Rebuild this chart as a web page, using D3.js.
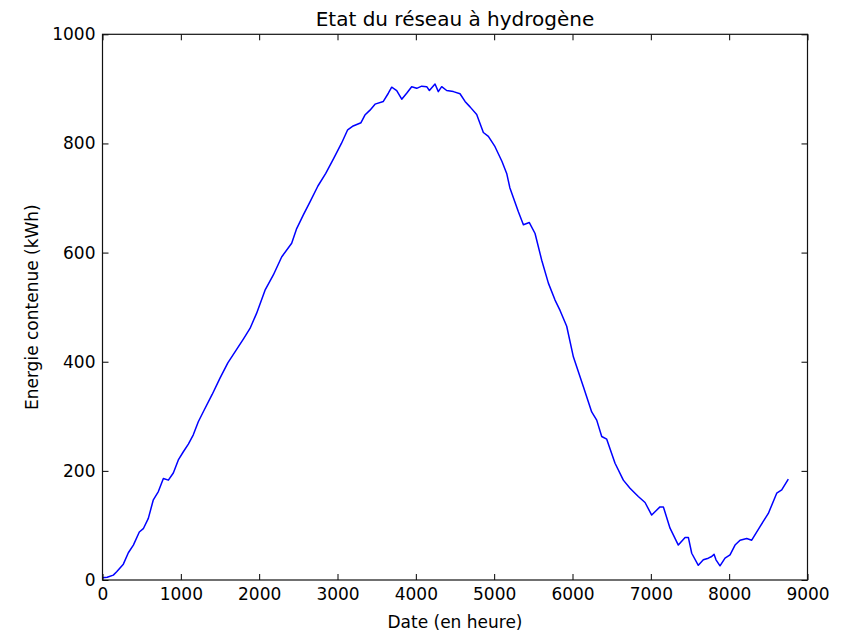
<!DOCTYPE html>
<html>
<head>
<meta charset="utf-8">
<script src="https://cdn.jsdelivr.net/npm/d3@7"></script>
<style>
  html, body { margin: 0; padding: 0; background: #fff; }
  svg text { font-family: "DejaVu Sans", sans-serif; fill: #000; }
</style>
</head>
<body>
<svg id="chart" width="844" height="633"></svg>
<script>
const title = "Etat du réseau à hydrogène";
const xLabel = "Date (en heure)";
const yLabel = "Energie contenue (kWh)";
const xTicks = [0, 1000, 2000, 3000, 4000, 5000, 6000, 7000, 8000, 9000];
const yTicks = [0, 200, 400, 600, 800, 1000];

const hours = [0,60,138,181,266,330,394,470,521,585,649,713,777,841,904,968,1032,1096,1159,1223,
  1300,1400,1500,1600,1700,1800,1883,1968,2075,2181,2287,2415,2479,2564,2649,2750,2850,2950,3050,3130,
  3200,3300,3350,3415,3479,3585,3649,3692,3756,3820,3883,3947,4011,4075,4139,4173,4245,4287,4330,4394,
  4479,4564,4628,4692,4777,4862,4926,5011,5100,5160,5200,5309,5373,5449,5522,5607,5692,5777,5841,5926,
  6011,6139,6245,6309,6373,6437,6543,6649,6734,6840,6926,7011,7117,7160,7245,7351,7437,7479,7522,7606,
  7670,7734,7777,7807,7832,7883,7947,8011,8075,8139,8224,8288,8394,8500,8607,8671,8755];
const energy = [4,5,9,15,29,50,64,88,94,113,147,162,186,183,196,220,235,249,266,290,
  312,340,370,398,420,442,461,489,531,559,592,617,644,669,693,722,745,772,800,825,
  832,838,852,861,872,877,892,903,897,881,892,904,901,905,904,897,909,895,904,897,
  895,891,877,867,853,820,813,794,767,745,719,675,651,655,635,586,544,513,494,465,
  409,354,308,293,263,258,214,183,168,153,142,119,134,134,95,64,78,78,49,27,
  37,40,43,47,37,26,40,46,64,73,76,73,98,122,159,165,185];

const svg = d3.select("#chart");
const L = 102.5, R = 807.5, T = 34.3, B = 580;
const x = d3.scaleLinear().domain([0, 9000]).range([L, R]);
const y = d3.scaleLinear().domain([0, 1000]).range([B, T]);
const tickLen = 6;

// curve
const data = hours.map((h, i) => [h, energy[i]]);
svg.append("path")
  .datum(data)
  .attr("fill", "none")
  .attr("stroke", "#0000ff")
  .attr("stroke-width", 1.5)
  .attr("stroke-linejoin", "round")
  .attr("d", d3.line().x(d => x(d[0])).y(d => y(d[1])));

function styleAxis(g) {
  g.select(".domain").remove();
  g.selectAll(".tick line").attr("stroke", "#000").attr("stroke-width", 1);
  g.selectAll(".tick text").attr("font-size", 17).attr("fill", "#111");
}

svg.append("g").attr("transform", `translate(0,${B})`)
  .call(d3.axisBottom(x).tickValues(xTicks).tickFormat(d3.format("d"))
    .tickSizeInner(-tickLen).tickSizeOuter(0).tickPadding(8))
  .call(styleAxis);
svg.append("g").attr("transform", `translate(0,${T})`)
  .call(d3.axisTop(x).tickValues(xTicks).tickFormat("")
    .tickSizeInner(-tickLen).tickSizeOuter(0))
  .call(styleAxis);
svg.append("g").attr("transform", `translate(${L},0)`)
  .call(d3.axisLeft(y).tickValues(yTicks).tickFormat(d3.format("d"))
    .tickSizeInner(-tickLen).tickSizeOuter(0).tickPadding(7))
  .call(styleAxis);
svg.append("g").attr("transform", `translate(${R},0)`)
  .call(d3.axisRight(y).tickValues(yTicks).tickFormat("")
    .tickSizeInner(-tickLen).tickSizeOuter(0))
  .call(styleAxis);

// frame
svg.append("rect")
  .attr("x", L).attr("y", T).attr("width", R - L).attr("height", B - T)
  .attr("fill", "none").attr("stroke", "#111").attr("stroke-width", 1.2);

// labels
svg.append("text").attr("x", (L + R) / 2).attr("y", 26)
  .attr("text-anchor", "middle").attr("font-size", 20).text(title);
svg.append("text").attr("x", (L + R) / 2).attr("y", 628)
  .attr("text-anchor", "middle").attr("font-size", 17).text(xLabel);
svg.append("text")
  .attr("transform", `translate(38,${(T + B) / 2}) rotate(-90)`)
  .attr("text-anchor", "middle").attr("font-size", 17).text(yLabel);
</script>
</body>
</html>
